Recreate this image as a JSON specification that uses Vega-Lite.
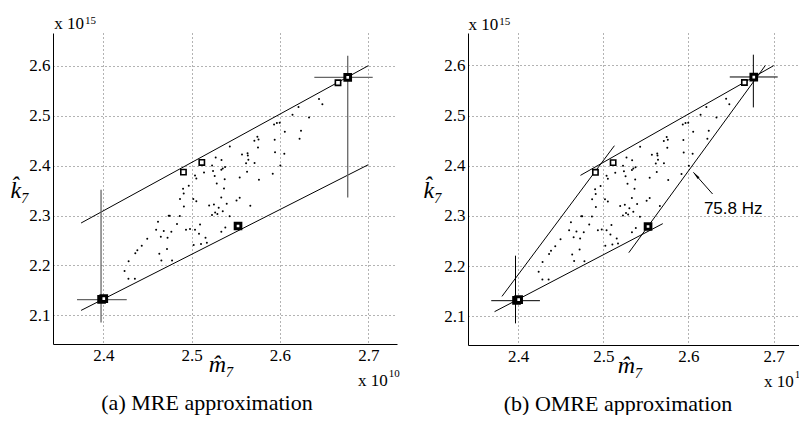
{
  "$schema": "https://vega.github.io/schema/vega-lite/v6.json",
  "background": "white",
  "padding": {"left": 10, "top": 14, "right": 0, "bottom": 0},
  "spacing": 23,
  "config": {
    "view": {"stroke": null},
    "axis": {
      "grid": true, "gridColor": "#666", "gridDash": [1, 3], "gridWidth": 1,
      "ticks": false, "domainColor": "black", "domainWidth": 1,
      "labelFont": "Liberation Serif", "labelFontSize": 17, "labelColor": "black", "labelPadding": 3,
      "titleFont": "Liberation Serif", "titleFontSize": 24, "titleFontStyle": "italic", "titleFontWeight": "normal", "titleColor": "black",
      "format": ".1f"
    },
    "title": {"font": "Liberation Serif", "fontSize": 22, "fontWeight": "normal", "color": "black"}
  },
  "datasets": {
    "dots": [
      {"x":2.6442,"y":2.5333},{"x":2.6480,"y":2.5228},{"x":2.6210,"y":2.5172},{"x":2.6142,"y":2.5019},{"x":2.6329,"y":2.4962},
      {"x":2.5933,"y":2.4822},{"x":2.5965,"y":2.4853},{"x":2.5997,"y":2.4858},{"x":2.6055,"y":2.4678},{"x":2.6238,"y":2.4698},
      {"x":2.6222,"y":2.4538},{"x":2.5940,"y":2.4515},{"x":2.5744,"y":2.4575},{"x":2.5757,"y":2.4521},{"x":2.5710,"y":2.4495},
      {"x":2.5751,"y":2.4361},{"x":2.5432,"y":2.4381},{"x":2.5570,"y":2.4221},{"x":2.5633,"y":2.4247},{"x":2.5636,"y":2.4204},
      {"x":2.5642,"y":2.4118},{"x":2.5944,"y":2.4265},{"x":2.6049,"y":2.4238},{"x":2.5712,"y":2.4051},{"x":2.6004,"y":2.4001},
      {"x":2.5616,"y":2.4045},{"x":2.5544,"y":2.3760},{"x":2.5762,"y":2.3717},{"x":2.5918,"y":2.3837},{"x":2.5272,"y":2.4164},
      {"x":2.5338,"y":2.4111},{"x":2.5231,"y":2.4000},{"x":2.5336,"y":2.3917},{"x":2.5352,"y":2.3944},{"x":2.5378,"y":2.3971},
      {"x":2.5242,"y":2.3891},{"x":2.5261,"y":2.3791},{"x":2.5140,"y":2.3863},{"x":2.5374,"y":2.3728},{"x":2.5038,"y":2.3800},
      {"x":2.5053,"y":2.3743},{"x":2.4967,"y":2.3597},{"x":2.4903,"y":2.3535},{"x":2.4910,"y":2.3440},{"x":2.4868,"y":2.3333},
      {"x":2.4912,"y":2.3180},{"x":2.5019,"y":2.3333},{"x":2.5053,"y":2.3287},{"x":2.5284,"y":2.3643},{"x":2.5335,"y":2.3360},
      {"x":2.5366,"y":2.3543},{"x":2.5544,"y":2.3357},{"x":2.5508,"y":2.3303},{"x":2.5664,"y":2.3197},{"x":2.5397,"y":2.3237},
      {"x":2.5252,"y":2.3223},{"x":2.5198,"y":2.3200},{"x":2.5306,"y":2.3156},{"x":2.5266,"y":2.3060},{"x":2.5230,"y":2.3010},
      {"x":2.5291,"y":2.3030},{"x":2.5352,"y":2.3083},{"x":2.5430,"y":2.2983},{"x":2.4866,"y":2.2990},{"x":2.4740,"y":2.2996},
      {"x":2.4752,"y":2.2996},{"x":2.4834,"y":2.2830},{"x":2.4936,"y":2.2716},{"x":2.4981,"y":2.2730},{"x":2.5038,"y":2.2716},
      {"x":2.5095,"y":2.2820},{"x":2.5083,"y":2.2633},{"x":2.5157,"y":2.2553},{"x":2.5106,"y":2.2432},{"x":2.5172,"y":2.2453},
      {"x":2.5023,"y":2.2408},{"x":2.5381,"y":2.2762},{"x":2.5336,"y":2.2676},{"x":2.4619,"y":2.2876},{"x":2.4598,"y":2.2716},
      {"x":2.4684,"y":2.2690},{"x":2.4651,"y":2.2576},{"x":2.4727,"y":2.2553},{"x":2.4770,"y":2.2676},{"x":2.4721,"y":2.2330},
      {"x":2.4634,"y":2.2232},{"x":2.4657,"y":2.2101},{"x":2.4778,"y":2.2098},{"x":2.4497,"y":2.2537},{"x":2.4435,"y":2.2396},
      {"x":2.4385,"y":2.2306},{"x":2.4362,"y":2.2243},{"x":2.4286,"y":2.2085},{"x":2.4240,"y":2.1889},{"x":2.4284,"y":2.1735},
      {"x":2.4357,"y":2.1735},{"x":2.5627,"y":2.3877}
    ],
    "squares": [
      {"x":2.3980,"y":2.1320,"kind":"bold"},{"x":2.4005,"y":2.1335,"kind":"bold"},
      {"x":2.5525,"y":2.2790,"kind":"bold"},{"x":2.6767,"y":2.5766,"kind":"bold"},
      {"x":2.4907,"y":2.3870,"kind":"open"},{"x":2.5115,"y":2.4063,"kind":"open"},{"x":2.6657,"y":2.5659,"kind":"open"}
    ],
    "segments": [
      {"panel":"MRE","group":"edge","x":2.3748,"y":2.2850,"x2":2.7000,"y2":2.6000},
      {"panel":"MRE","group":"edge","x":2.3748,"y":2.1100,"x2":2.7000,"y2":2.4017},
      {"panel":"MRE","group":"cross","x":2.3974,"y":2.0860,"x2":2.3974,"y2":2.3517},
      {"panel":"MRE","group":"cross","x":2.3702,"y":2.1314,"x2":2.4265,"y2":2.1314},
      {"panel":"MRE","group":"cross","x":2.6767,"y":2.3363,"x2":2.6767,"y2":2.6200},
      {"panel":"MRE","group":"cross","x":2.6389,"y":2.5766,"x2":2.7050,"y2":2.5766},
      {"panel":"OMRE","group":"edge","x":2.3809,"y":2.1398,"x2":2.5130,"y2":2.4400},
      {"panel":"OMRE","group":"edge","x":2.4731,"y":2.3809,"x2":2.7000,"y2":2.5994},
      {"panel":"OMRE","group":"edge","x":2.5299,"y":2.2269,"x2":2.6903,"y2":2.5998},
      {"panel":"OMRE","group":"edge","x":2.3722,"y":2.1094,"x2":2.5698,"y2":2.2847},
      {"panel":"OMRE","group":"edge","x":2.3968,"y":2.0861,"x2":2.3968,"y2":2.2209},
      {"panel":"OMRE","group":"edge","x":2.3683,"y":2.1313,"x2":2.4255,"y2":2.1313},
      {"panel":"OMRE","group":"edge","x":2.6762,"y":2.5163,"x2":2.6762,"y2":2.6213},
      {"panel":"OMRE","group":"edge","x":2.6485,"y":2.5769,"x2":2.7048,"y2":2.5769},
      {"panel":"OMRE","group":"edge","x":2.6283,"y":2.3438,"x2":2.6058,"y2":2.3869}
    ],
    "arrowheads": [{"panel":"OMRE","x":2.6058,"y":2.3869}],
    "notes": [
      {"panel":"MRE","role":"main","x":2.3781,"y":2.6735,"text":"x 10"},
      {"panel":"MRE","role":"sup","x":2.3781,"y":2.6841,"text":"15"},
      {"panel":"MRE","role":"main","x":2.7220,"y":1.9592,"text":"x 10"},
      {"panel":"MRE","role":"sup","x":2.7220,"y":1.9773,"text":"10"},
      {"panel":"OMRE","role":"main","x":2.3765,"y":2.6705,"text":"x 10"},
      {"panel":"OMRE","role":"sup","x":2.3765,"y":2.6811,"text":"15"},
      {"panel":"OMRE","role":"main","x":2.7236,"y":1.9600,"text":"x 10"},
      {"panel":"OMRE","role":"sup","x":2.7236,"y":1.9779,"text":"10"},
      {"panel":"OMRE","role":"hz","x":2.6181,"y":2.3042,"text":"75.8 Hz"}
    ]
  },
  "hconcat": [
    {
      "width": 344, "height": 311,
      "title": {"text": "(a)  MRE approximation", "orient": "bottom", "dx": -18, "offset": 4},
      "encoding": {
        "x": {"field": "x", "type": "quantitative", "scale": {"domain": [2.343, 2.7325], "nice": false, "zero": false},
              "axis": {"values": [2.4, 2.5, 2.6, 2.7], "title": "m̂₇", "titleX": 168, "titleY": 27, "titleBaseline": "alphabetic"}},
        "y": {"field": "y", "type": "quantitative", "scale": {"domain": [2.0427, 2.6655], "nice": false, "zero": false},
              "axis": {"values": [2.1, 2.2, 2.3, 2.4, 2.5, 2.6], "title": "k̂₇", "titleAngle": 0, "titleAlign": "right", "titleBaseline": "middle", "titleX": -24, "titleY": 157}}
      },
      "layer": [
        {"data": {"name": "dots"}, "mark": {"type": "point", "shape": "circle", "filled": true, "size": 4, "color": "black", "opacity": 1}},
        {"data": {"name": "segments"}, "transform": [{"filter": "datum.panel === 'MRE' && datum.group === 'edge'"}],
         "mark": {"type": "rule", "color": "black", "strokeWidth": 1}, "encoding": {"x2": {"field": "x2"}, "y2": {"field": "y2"}}},
        {"data": {"name": "segments"}, "transform": [{"filter": "datum.panel === 'MRE' && datum.group === 'cross'"}],
         "mark": {"type": "rule", "color": "#666", "strokeWidth": 1.3}, "encoding": {"x2": {"field": "x2"}, "y2": {"field": "y2"}}},
        {"data": {"name": "squares"}, "transform": [{"filter": "datum.kind === 'open'"}],
         "mark": {"type": "point", "shape": "square", "filled": false, "fill": "white", "fillOpacity": 1, "stroke": "black", "strokeWidth": 1.6, "size": 28, "opacity": 1}},
        {"data": {"name": "squares"}, "transform": [{"filter": "datum.kind === 'bold'"}],
         "mark": {"type": "point", "shape": "square", "filled": false, "fill": "white", "fillOpacity": 1, "stroke": "black", "strokeWidth": 3, "size": 32, "opacity": 1}},
        {"data": {"name": "notes"}, "transform": [{"filter": "datum.panel === 'MRE' && datum.role === 'main'"}],
         "mark": {"type": "text", "align": "right", "baseline": "alphabetic", "font": "Liberation Serif", "fontSize": 17, "color": "black"},
         "encoding": {"text": {"field": "text"}}},
        {"data": {"name": "notes"}, "transform": [{"filter": "datum.panel === 'MRE' && datum.role === 'sup'"}],
         "mark": {"type": "text", "align": "left", "baseline": "alphabetic", "dx": 1, "font": "Liberation Serif", "fontSize": 11, "color": "black"},
         "encoding": {"text": {"field": "text"}}}
      ]
    },
    {
      "width": 332, "height": 312,
      "title": {"text": "(b)  OMRE approximation", "orient": "bottom", "dx": -16, "offset": 4},
      "encoding": {
        "x": {"field": "x", "type": "quantitative", "scale": {"domain": [2.341, 2.731], "nice": false, "zero": false},
              "axis": {"values": [2.4, 2.5, 2.6, 2.7], "title": "m̂₇", "titleX": 162, "titleY": 27, "titleBaseline": "alphabetic"}},
        "y": {"field": "y", "type": "quantitative", "scale": {"domain": [2.043, 2.6645], "nice": false, "zero": false},
              "axis": {"values": [2.1, 2.2, 2.3, 2.4, 2.5, 2.6], "title": "k̂₇", "titleAngle": 0, "titleAlign": "right", "titleBaseline": "middle", "titleX": -26, "titleY": 157}}
      },
      "layer": [
        {"data": {"name": "dots"}, "mark": {"type": "point", "shape": "circle", "filled": true, "size": 4, "color": "black", "opacity": 1}},
        {"data": {"name": "segments"}, "transform": [{"filter": "datum.panel === 'OMRE'"}],
         "mark": {"type": "rule", "color": "black", "strokeWidth": 1}, "encoding": {"x2": {"field": "x2"}, "y2": {"field": "y2"}}},
        {"data": {"name": "arrowheads"},
         "mark": {"type": "point", "shape": "M0,0L-0.35,2.2L0.35,2.2Z", "filled": true, "color": "black", "size": 49, "angle": 318, "opacity": 1}},
        {"data": {"name": "squares"}, "transform": [{"filter": "datum.kind === 'open'"}],
         "mark": {"type": "point", "shape": "square", "filled": false, "fill": "white", "fillOpacity": 1, "stroke": "black", "strokeWidth": 1.6, "size": 28, "opacity": 1}},
        {"data": {"name": "squares"}, "transform": [{"filter": "datum.kind === 'bold'"}],
         "mark": {"type": "point", "shape": "square", "filled": false, "fill": "white", "fillOpacity": 1, "stroke": "black", "strokeWidth": 3, "size": 32, "opacity": 1}},
        {"data": {"name": "notes"}, "transform": [{"filter": "datum.panel === 'OMRE' && datum.role === 'main'"}],
         "mark": {"type": "text", "align": "right", "baseline": "alphabetic", "font": "Liberation Serif", "fontSize": 17, "color": "black"},
         "encoding": {"text": {"field": "text"}}},
        {"data": {"name": "notes"}, "transform": [{"filter": "datum.panel === 'OMRE' && datum.role === 'sup'"}],
         "mark": {"type": "text", "align": "left", "baseline": "alphabetic", "dx": 1, "font": "Liberation Serif", "fontSize": 11, "color": "black"},
         "encoding": {"text": {"field": "text"}}},
        {"data": {"name": "notes"}, "transform": [{"filter": "datum.panel === 'OMRE' && datum.role === 'hz'"}],
         "mark": {"type": "text", "align": "left", "baseline": "alphabetic", "font": "Liberation Sans", "fontSize": 17, "color": "black"},
         "encoding": {"text": {"field": "text"}}}
      ]
    }
  ]
}
